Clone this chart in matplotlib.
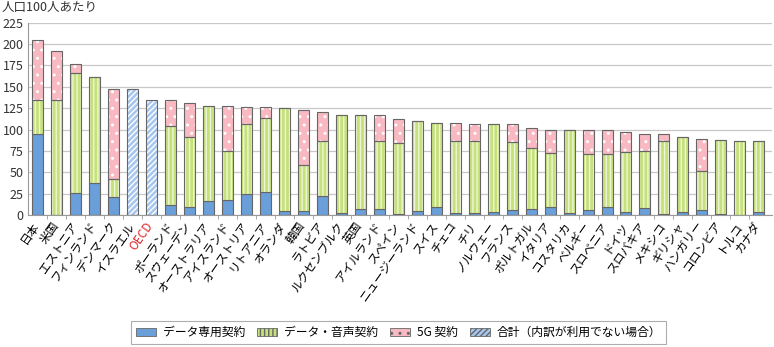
import matplotlib
matplotlib.use("Agg")
import matplotlib.pyplot as plt
import matplotlib.transforms as mtrans
import numpy as np
from matplotlib.patches import Patch

plt.rcParams['font.family'] = ['Noto Sans CJK JP', 'DejaVu Sans']
plt.rcParams['hatch.linewidth'] = 1.0

# 国名
countries = ["日本", "米国", "エストニア", "フィンランド", "デンマーク", "イスラエル", "OECD",
             "ポーランド", "スウェーデン", "オーストラリア", "アイスランド", "オーストリア",
             "リトアニア", "オランダ", "韓国", "ラトビア", "ルクセンブルク", "英国",
             "アイルランド", "スペイン", "ニュージーランド", "スイス", "チェコ", "チリ",
             "ノルウェー", "フランス", "ポルトガル", "イタリア", "コスタリカ", "ベルギー",
             "スロベニア", "ドイツ", "スロバキア", "メキシコ", "ギリシャ", "ハンガリー",
             "コロンビア", "トルコ", "カナダ"]

# データ専用契約
data_only = [95, 0, 26, 38, 21, 0, 0, 12, 10, 16, 18, 25, 27, 5, 5, 22, 2, 7, 7, 1.5,
             5, 9, 3, 2, 4, 5.5, 7, 9, 2, 6.5, 9, 3.5, 8, 1, 4, 6, 1, 0.5, 4]
# データ・音声契約 (累計)
data_voice_top = [135, 135, 166, 161, 42, 0, 0, 104, 91, 128, 75, 106, 114, 125, 58, 87,
                  117, 117, 87, 84, 110, 108, 87, 87, 106.5, 86, 79, 73, 99.5, 72, 72, 74,
                  75.5, 87, 91, 51, 88, 87, 86.5]
# 5G契約 (累計)
total_5g = [205, 192, 177, 161, 147, 0, 0, 135, 131, 128, 128, 126, 126, 125, 123, 121,
            117, 117, 117, 112, 110, 108, 108, 107, 106.5, 106.5, 101.5, 100, 99.5, 99, 99,
            97.5, 95, 95, 91, 89, 88, 87, 86.5]
# 合計（内訳が利用できない場合）
total_only = [0, 0, 0, 0, 0, 147, 135, 0, 0, 0, 0, 0, 0, 0, 0, 0, 0, 0, 0, 0, 0, 0, 0, 0,
              0, 0, 0, 0, 0, 0, 0, 0, 0, 0, 0, 0, 0, 0, 0]

x = np.arange(len(countries))
blue = np.array(data_only)
green = np.array(data_voice_top) - blue
green[green < 0] = 0
pink = np.array(total_5g) - np.array(data_voice_top)
pink[pink < 0] = 0
hat = np.array(total_only)

c_blue = "#6a9fd9"
c_green = "#c6e07c"
c_pink = "#f9b9c2"
c_hatch = "#a6c6ee"
edge = "#666666"
w = 0.58

fig = plt.figure(figsize=(7.74, 3.47), dpi=100)
ax = fig.add_axes([0.036, 0.38, 0.961, 0.555])

ax.bar(x, blue, w, color=c_blue, edgecolor=edge, linewidth=0.8, zorder=3)
ax.bar(x, green, w, bottom=blue, color=c_green, edgecolor="#eef6d6", hatch="||||",
       linewidth=0, zorder=3)
ax.bar(x, green, w, bottom=blue, fill=False, edgecolor=edge, linewidth=0.8, zorder=4)
b2 = blue + green
ax.bar(x, pink, w, bottom=b2, color=c_pink, edgecolor="white", hatch="..",
       linewidth=0, zorder=3)
ax.bar(x, pink, w, bottom=b2, fill=False, edgecolor=edge, linewidth=0.8, zorder=4)
ax.bar(x, hat, w, color=c_hatch, edgecolor="white", hatch="//////", linewidth=0, zorder=3)
ax.bar(x, hat, w, fill=False, edgecolor=edge, linewidth=0.8, zorder=4)

ax.set_xlim(-0.53, len(countries) - 0.32)
ax.set_ylim(0, 225)
ax.set_yticks(range(0, 226, 25))
ax.tick_params(axis='y', length=0, labelsize=9, colors="#333333", pad=3)
ax.yaxis.grid(True, color="#c8c8c8", linewidth=0.9, zorder=0)
ax.set_axisbelow(True)

ax.set_xticks(x)
ax.set_xticklabels(countries, rotation=55, ha="right", va="top", fontsize=8.5)
ax.tick_params(axis='x', length=0, pad=3)
ax.set_xticks(x[:-1] + 0.5, minor=True)
ax.tick_params(axis='x', which='minor', length=3, color="#999999")
shift = mtrans.ScaledTranslation(0.045, 0, fig.dpi_scale_trans)
for lab in ax.get_xticklabels():
    lab.set_transform(lab.get_transform() + shift)
    if lab.get_text() == "OECD":
        lab.set_color("#e0282a")

for s in ["top", "right"]:
    ax.spines[s].set_visible(False)
ax.spines["left"].set_color("#999999")
ax.spines["bottom"].set_color("#999999")

fig.text(0.002, 0.978, "人口100人あたり", fontsize=9, va="center", ha="left", color="#333333")

handles = [Patch(facecolor=c_blue, edgecolor=edge, linewidth=0.6),
           Patch(facecolor=c_green, edgecolor=edge, hatch="||||", linewidth=0.6),
           Patch(facecolor=c_pink, edgecolor=edge, hatch="..", linewidth=0.6),
           Patch(facecolor=c_hatch, edgecolor=edge, hatch="//////", linewidth=0.6)]
labels = ["データ専用契約", "データ・音声契約", "5G 契約", "合計（内訳が利用でない場合）"]
leg = fig.legend(handles, labels, loc="center", bbox_to_anchor=(0.515, 0.042), ncol=4,
                 fontsize=8.5, frameon=True, fancybox=False, edgecolor="#999999",
                 handlelength=1.7, handleheight=0.6, columnspacing=1.0, handletextpad=0.6,
                 borderpad=0.4)
leg.get_frame().set_linewidth(0.8)

fig.savefig("out.png", dpi=100)
